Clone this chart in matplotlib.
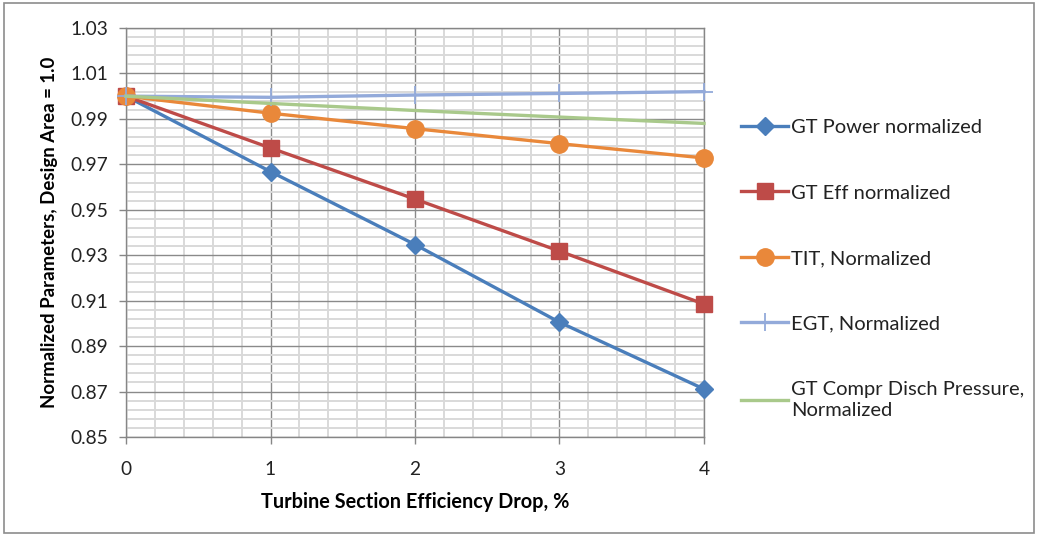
import numpy as np
import matplotlib
matplotlib.use("Agg")
from matplotlib import pyplot as plt
from matplotlib.patches import Rectangle
from matplotlib.ticker import FixedLocator, FormatStrFormatter

plt.rcParams['font.family'] = ['Lato', 'DejaVu Sans']

# data
drop = [0, 1, 2, 3, 4]
gt_power = [1.0, 0.9668, 0.9347, 0.9005, 0.8711]
gt_eff = [1.0, 0.9772, 0.9547, 0.9318, 0.9085]
tit = [1.0, 0.9925, 0.9857, 0.9791, 0.9728]
egt = [1.0, 0.9995, 1.0005, 1.0012, 1.0020]
cdp = [1.0, 0.9968, 0.9937, 0.9908, 0.9880]

labels = ['GT Power normalized', 'GT Eff normalized', 'TIT, Normalized',
          'EGT, Normalized', 'GT Compr Disch Pressure,\nNormalized']
y_ticks = [0.85, 0.87, 0.89, 0.91, 0.93, 0.95, 0.97, 0.99, 1.01, 1.03]

fig = plt.figure(figsize=(10.37, 5.36), dpi=100)
fig.patches.append(Rectangle((0.004, 0.006), 0.993, 0.988, transform=fig.transFigure,
                             fill=False, edgecolor='#8c8c8c', linewidth=1.2))
ax = fig.add_axes((126/1037, 1 - 437/536, 578/1037, 409/536))

lw = 2.4
ax.plot(drop, gt_power, color='#4A7EBB', lw=lw, marker='D', ms=9.5, label=labels[0], zorder=3, clip_on=False)
ax.plot(drop, gt_eff, color='#BE4B48', lw=lw, marker='s', ms=12, label=labels[1], zorder=3, clip_on=False)
ax.plot(drop, tit, color='#E9883A', lw=lw, marker='o', ms=12.5, label=labels[2], zorder=3, clip_on=False)
ax.plot(drop, egt, color='#93AADA', lw=lw, marker='+', ms=13, mew=1.3, label=labels[3], zorder=3, clip_on=False)
ax.plot(drop, cdp, color='#A9C98B', lw=lw, label=labels[4], zorder=3, clip_on=False)

ax.set_xlim(0, 4)
ax.set_ylim(0.85, 1.03)
ax.set_xticks(drop)
ax.xaxis.set_minor_locator(FixedLocator(np.arange(0, 4.01, 0.2)))
ax.yaxis.set_major_locator(FixedLocator(y_ticks))
ax.yaxis.set_minor_locator(FixedLocator(np.arange(0.85, 1.0301, 0.004)))
ax.yaxis.set_major_formatter(FormatStrFormatter('%.2f'))

ax.grid(which='minor', color='#d9d9d9', lw=1.4, zorder=0)
ax.grid(which='major', color='#8a8a8a', lw=1.0, zorder=1)
ax.set_axisbelow(True)
ax.tick_params(which='minor', length=0)
ax.tick_params(which='major', direction='out', length=5, width=1, color='#868686',
               labelsize=13.8, labelcolor='#222222')
ax.tick_params(axis='x', pad=12)
ax.tick_params(axis='y', pad=8)
for s in ax.spines.values():
    s.set_color('#868686')
    s.set_linewidth(1.0)

ax.set_xlabel('Turbine Section Efficiency Drop, %', fontsize=14.3, fontweight='bold', labelpad=10)
ax.set_ylabel('Normalized Parameters, Design Area = 1.0', fontsize=13.4, fontweight='bold', labelpad=9)

leg = fig.legend(loc='upper left', bbox_to_anchor=(741/1037, 1 - 119/536), frameon=False,
                 fontsize=14.5, handlelength=2.35, handletextpad=0.15, labelspacing=2.4,
                 borderpad=0, borderaxespad=0, labelcolor='#222222')
for t in leg.get_texts():
    t.set_linespacing(1.3)

fig.savefig('out.png', dpi=100)
